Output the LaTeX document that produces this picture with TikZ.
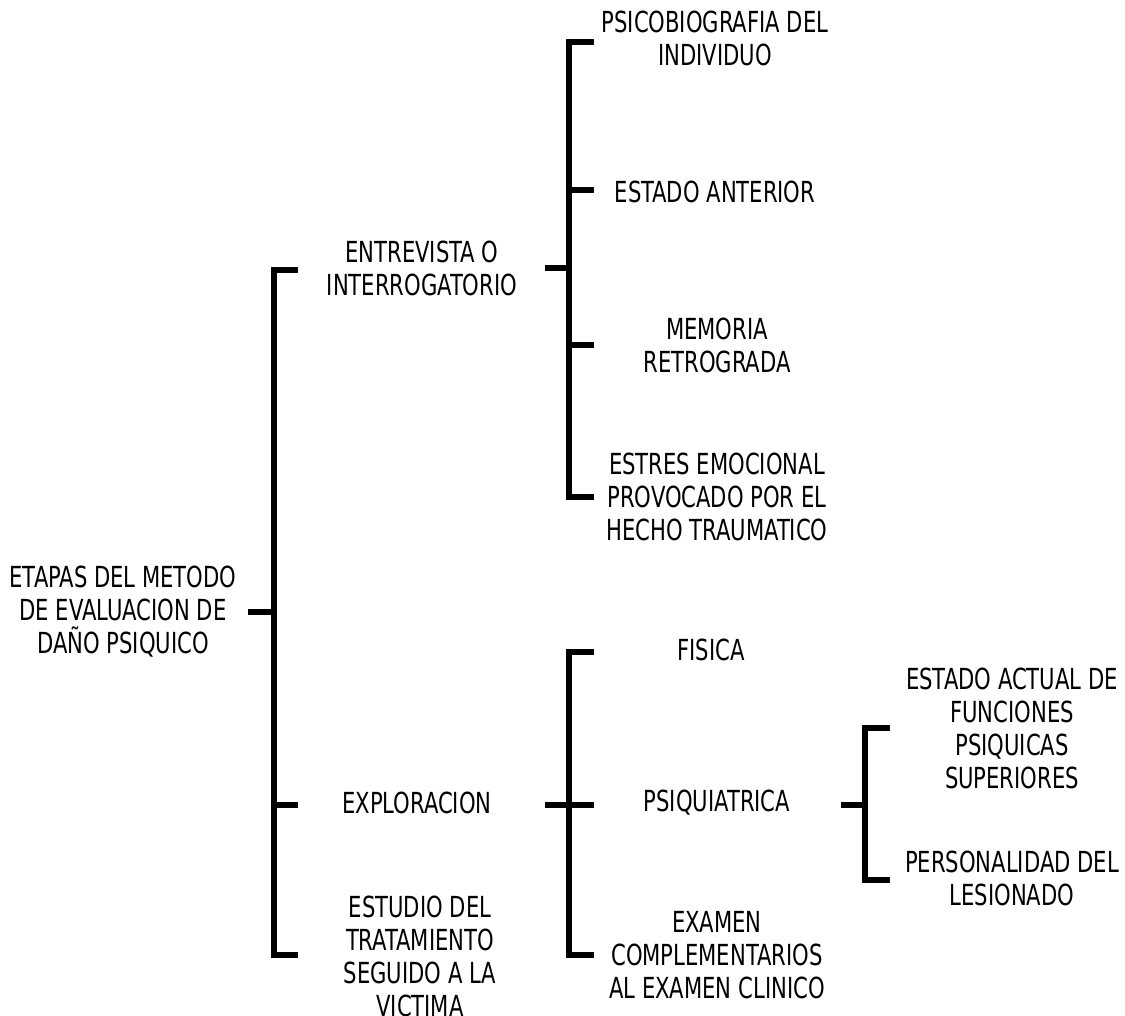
\documentclass[tikz,border=0pt]{standalone}
\usepackage{fontspec}
\setmainfont[FakeStretch=0.81]{DejaVu Sans Condensed}
\usetikzlibrary{positioning}
\tikzset{
  etapa/.style={align=center, inner sep=0pt, font=\fontsize{29}{33}\selectfont},
  llave/.style={line width=5.5pt, line join=miter}
}

\begin{document}
\begin{tikzpicture}[x=1pt,y=-1pt]
\useasboundingbox (0,0) rectangle (1125,1016);

% textos
\node[etapa] (raiz) at (123,612) {ETAPAS DEL METODO\\DE EVALUACION DE\\DAÑO PSIQUICO};
\node[etapa] (entrevista) at (422,268) {ENTREVISTA O\\INTERROGATORIO};
\node[etapa] (exploracion) at (417,803) {EXPLORACION};
\node[etapa] (estudio) at (420,956) {ESTUDIO DEL\\TRATAMIENTO\\SEGUIDO A LA\\VICTIMA};
\node[etapa] (psicobio) at (715,38) {PSICOBIOGRAFIA DEL\\INDIVIDUO};
\node[etapa] (anterior) at (715,192) {ESTADO ANTERIOR};
\node[etapa] (memoria) at (717,345) {MEMORIA\\RETROGRADA};
\node[etapa] (estres) at (717,497) {ESTRES EMOCIONAL\\PROVOCADO POR EL\\HECHO TRAUMATICO};
\node[etapa] (fisica) at (711,650) {FISICA};
\node[etapa] (psiquiatrica) at (717,803) {PSIQUIATRICA};
\node[etapa] (examen) at (717,955) {EXAMEN\\COMPLEMENTARIOS\\AL EXAMEN CLINICO};
\node[etapa] (funciones) at (1012,728) {ESTADO ACTUAL DE\\FUNCIONES\\PSIQUICAS\\SUPERIORES};
\node[etapa] (personalidad) at (1012,878) {PERSONALIDAD DEL\\LESIONADO};

% llave principal
\coordinate (a1) at (248,612);
\coordinate (a2) at (274,612);
\draw[llave] (298,270) -- (274,270) -- (274,955) -- (298,955);
\draw[llave] (a1) -- (a2);
\draw[llave] (274,805) -- (298,805);

% llave de la entrevista
\coordinate (b1) at (545,268);
\coordinate (b2) at (569,268);
\draw[llave] (594,42) -- (569,42) -- (569,497) -- (594,497);
\draw[llave] (b1) -- (b2);
\draw[llave] (569,190) -- (594,190);
\draw[llave] (569,345) -- (594,345);

% llave de la exploracion
\coordinate (c1) at (545,805);
\coordinate (c2) at (594,805);
\draw[llave] (594,652) -- (569,652) -- (569,955) -- (594,955);
\draw[llave] (c1) -- (c2);

% llave psiquiatrica
\coordinate (d1) at (841,805);
\coordinate (d2) at (865,805);
\draw[llave] (890,728) -- (865,728) -- (865,880) -- (890,880);
\draw[llave] (d1) -- (d2);
\end{tikzpicture}
\end{document}
